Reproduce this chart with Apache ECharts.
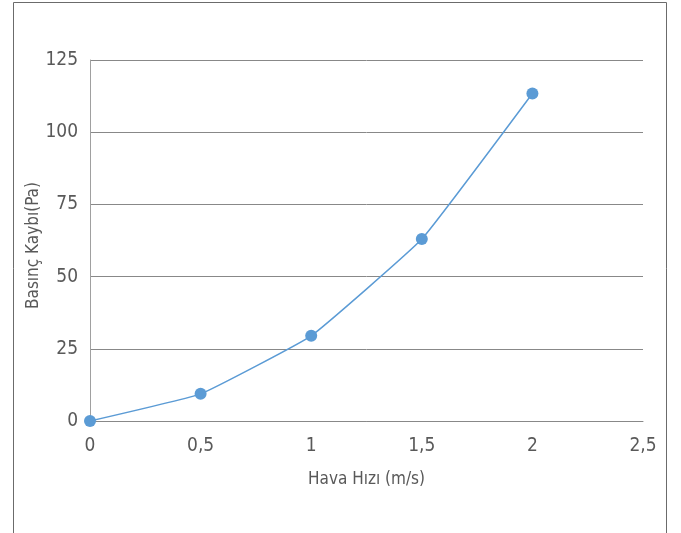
<!DOCTYPE html>
<html><head><meta charset="utf-8">
<script src="https://cdn.jsdelivr.net/npm/echarts@6/dist/echarts.min.js"></script>
<style>html,body{margin:0;padding:0;background:#fff}#c{width:681px;height:533px}</style>
</head><body><div id="c"></div>
<script>
var xValues = [0, 0.5, 1, 1.5, 2];
var yValues = [0, 9.4, 29.5, 63, 113.4];
var xTicks = [0, 0.5, 1, 1.5, 2, 2.5];
var yTicks = [0, 25, 50, 75, 100, 125];
var xName = 'Hava Hızı (m/s)';
var yName = 'Basınç Kaybı(Pa)';

var font = "'DejaVu Sans Condensed', 'Liberation Sans Narrow', sans-serif";
var chart = echarts.init(document.getElementById('c'));
chart.setOption({
  animation: false,
  graphic: [{type:'rect', shape:{x:13.5,y:2.5,width:653,height:540}, style:{fill:'none', stroke:'#6b6b6b', lineWidth:1}, silent:true}],
  grid: {left: 90, right: 38, top: 60, bottom: 112},
  xAxis: {
    type: 'value', min: 0, max: 2.5, interval: 0.5,
    name: xName, nameLocation: 'middle', nameGap: 50, nameMoveOverlap: false,
    nameTextStyle: {fontFamily: font, fontSize: 17, color: '#595959'},
    axisLine: {show: true, onZero: false, lineStyle: {color: '#888888'}},
    axisTick: {show: false},
    splitLine: {show: false},
    axisLabel: {fontFamily: font, fontSize: 19, color: '#595959', margin: 16,
      formatter: function(v){ return String(v).replace('.', ','); }}
  },
  yAxis: {
    type: 'value', min: 0, max: 125, interval: 25,
    name: yName, nameLocation: 'middle', nameGap: 48, nameMoveOverlap: false,
    nameTextStyle: {fontFamily: font, fontSize: 17, color: '#595959', padding: [0, 10, 0, 0]},
    axisLine: {show: true, lineStyle: {color: '#a0a0a0'}},
    axisTick: {show: false},
    splitLine: {show: true, lineStyle: {color: '#888888', width: 1}},
    axisLabel: {fontFamily: font, fontSize: 19, color: '#595959', margin: 12}
  },
  series: [{
    type: 'line',
    data: xValues.map(function(x, i){ return [x, yValues[i]]; }),
    smooth: 0.1,
    symbol: 'circle', symbolSize: 12,
    itemStyle: {color: '#5b9bd5'},
    lineStyle: {color: '#5b9bd5', width: 1.5}
  }]
});
</script></body></html>
